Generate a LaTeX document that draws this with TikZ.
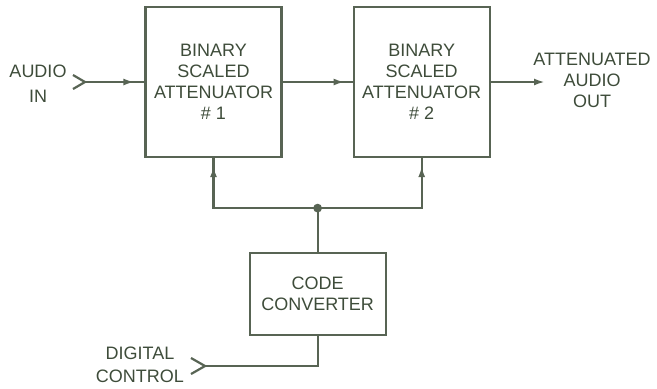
\documentclass[tikz,border=0pt]{standalone}
\usepackage{fontspec}
\setmainfont{Liberation Sans}
\usetikzlibrary{positioning,arrows.meta,calc,decorations.markings}
\definecolor{ink}{RGB}{62,76,58}
\definecolor{wireink}{RGB}{88,100,84}

\begin{document}
\begin{tikzpicture}[
    x=0.5pt, y=-0.5pt,
    font=\fontsize{9}{10.5}\selectfont,
    % attenuator and converter blocks
    blk/.style={draw=wireink, line width=1.1pt, align=center, text=ink,
                minimum width=68pt, minimum height=75pt, inner sep=0pt},
    cblk/.style={blk, minimum height=41pt},
    % free labels at the inputs / output
    lbl/.style={align=center, text=ink, inner sep=0pt},
    wire/.style={draw=wireink, line width=1.1pt},
    % arrow head sitting just short of the end of the line
    arr/.style={wire, postaction={decorate}, decoration={markings,
                mark=at position #1 with {\arrow{Latex[length=5.5pt,width=3.5pt]}}}},
    chev/.style={wire, line join=miter}
  ]
  \useasboundingbox (0,0) rectangle (657,388);

  % ===================== attenuator chain =====================
  \node[blk] (att1) at (213.5,82) {BINARY\\SCALED\\ATTENUATOR\\\# 1};
  \node[blk, right=35pt of att1] (att2) {BINARY\\SCALED\\ATTENUATOR\\\# 2};

  \coordinate (ain) at (85,82);
  \node[lbl] (ainl) at (38,84) {AUDIO\\[2pt]IN};
  \draw[chev] ($(ain)+(-12,-7)$) -- (ain) -- ($(ain)+(-12,7)$);
  \draw[arr=-5pt] (ain) -- (att1.west);
  \draw[arr=-4pt] (att1.east) -- (att2.west);

  \coordinate (aout) at (545,82);
  \node[lbl] (aoutl) at (592,80) {ATTENUATED\\AUDIO\\OUT};
  \draw[wire, -{Latex[length=5.5pt,width=3.5pt]}] (att2.east) -- (aout);

  % ===================== control path =====================
  \coordinate (mid) at ($(att1.south)!0.5!(att2.south)$);
  \node[cblk, below=47pt of mid] (conv) {CODE\\CONVERTER};
  \coordinate[above=22pt of conv.north] (jn);

  \draw[wire] (conv.north) -- (jn);
  \fill[wireink] (jn) circle (2.2pt);
  \draw[arr=-4pt] (jn) -| (att1.south);
  \draw[arr=-4pt] (jn) -| (att2.south);

  \coordinate (dctl) at (205,366);
  \node[lbl] (dctll) at (140,365) {DIGITAL\\[1pt]CONTROL};
  \draw[chev] ($(dctl)+(-14,-8)$) -- (dctl) -- ($(dctl)+(-14,8)$);
  \draw[wire] (dctl) -| (conv.south);

\end{tikzpicture}
\end{document}
